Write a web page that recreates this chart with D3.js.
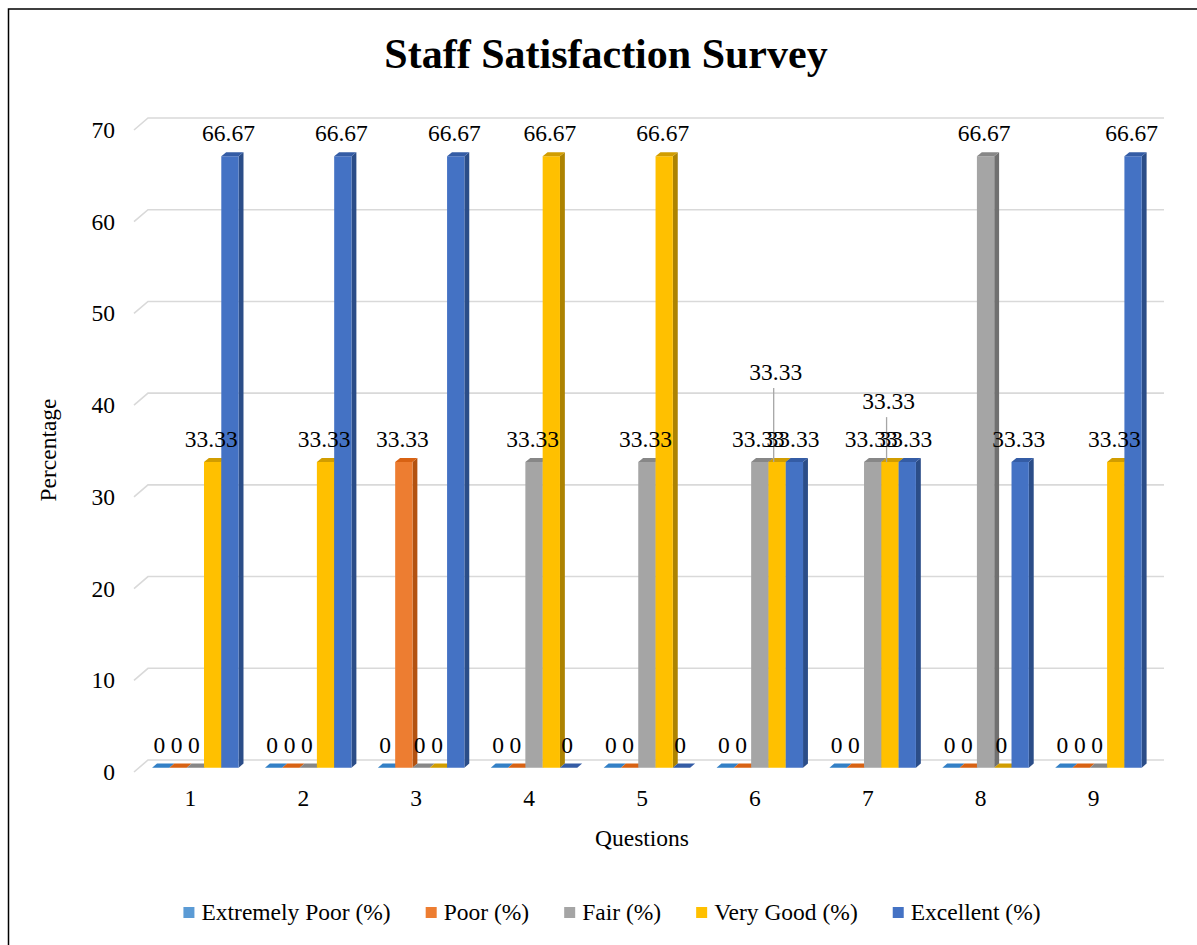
<!DOCTYPE html>
<html>
<head>
<meta charset="utf-8">
<script src="https://cdn.jsdelivr.net/npm/d3@7/dist/d3.min.js"></script>
<style>
  html, body { margin: 0; padding: 0; background: #fff; }
  svg { display: block; }
  svg text { font-family: "Liberation Serif", "Times New Roman", Tinos, serif !important; fill: #000; }
</style>
</head>
<body>
<svg id="chart" width="1197" height="945" font-family="Liberation Serif, serif"></svg>
<script>
// ---- data ----
const categories = ["1", "2", "3", "4", "5", "6", "7", "8", "9"];
const seriesNames = ["Extremely Poor (%)", "Poor (%)", "Fair (%)", "Very Good (%)", "Excellent (%)"];
const extremelyPoor = [0, 0, 0, 0, 0, 0, 0, 0, 0];
const poor          = [0, 0, 33.33, 0, 0, 0, 0, 0, 0];
const fair          = [0, 0, 0, 33.33, 33.33, 33.33, 33.33, 66.67, 0];
const veryGood      = [33.33, 33.33, 0, 66.67, 66.67, 33.33, 33.33, 0, 33.33];
const excellent     = [66.67, 66.67, 66.67, 0, 0, 33.33, 33.33, 33.33, 66.67];
const yTicks = [0, 10, 20, 30, 40, 50, 60, 70];
const titleText = "Staff Satisfaction Survey";
const xTitle = "Questions";
const yTitle = "Percentage";

// ---- style ----
const colors = ["#5B9BD5", "#ED7D31", "#A5A5A5", "#FFC000", "#4472C4"];
const seriesValues = [extremelyPoor, poor, fair, veryGood, excellent];
// manually moved labels (pixels up) with leader lines: [categoryIndex, seriesIndex, offset]
const movedLabels = [[5, 3, 67], [6, 3, 38]];

const svg = d3.select("#chart");
const FONT = 23.5;
const SERIF = "'Liberation Serif', 'Times New Roman', serif";

// border
svg.append("rect").attr("x", 8.5).attr("y", 9).attr("width", 1250).attr("height", 1000)
  .attr("fill", "none").attr("stroke", "#000").attr("stroke-width", 1.5);

// ---- scales (front plane) ----
const x0 = d3.scaleBand().domain(categories).range([134, 1150]).padding(0);
const bw = x0.bandwidth();
const groupW = 86.5;
const x1 = d3.scaleBand().domain(seriesNames).range([(bw - groupW) / 2, (bw + groupW) / 2]).padding(0);
const y = d3.scaleLinear().domain([0, 70]).range([772, 130]);
const DX = 14, DY = -12; // full depth offset
const d1 = 0.35, d2 = 0.70;
function proj(px, v, d) { return [px + d * DX, y(v) + d * DY]; }

// ---- gridlines on back wall with left floor diagonal ----
const [rx0, rx1] = x0.range();
svg.append("g").selectAll("path").data(yTicks).join("path")
  .attr("d", v => {
    const a = proj(rx0, v, 0), b = proj(rx0, v, 1), c = proj(rx1, v, 1);
    return `M${a}L${b}L${c}`;
  })
  .attr("fill", "none").attr("stroke", "#D9D9D9").attr("stroke-width", 1.6);

// ---- bars ----
function shade(c, k) { const h = d3.hsl(c); h.l = h.l * k; return h.formatHex(); }
const barsG = svg.append("g");
const labelData = [];
categories.forEach((cat, ci) => {
  seriesNames.forEach((s, si) => {
    const v = seriesValues[si][ci];
    const xl = x0(cat) + x1(s);
    const xr = xl + x1.bandwidth();
    const col = colors[si];
    const fbl = proj(xl, 0, d1), fbr = proj(xr, 0, d1);
    const ftl = proj(xl, v, d1), ftr = proj(xr, v, d1);
    const btl = proj(xl, v, d2), btr = proj(xr, v, d2);
    const bbr = proj(xr, 0, d2);
    if (v > 0) {
      barsG.append("path").attr("d", `M${fbr}L${bbr}L${btr}L${ftr}Z`).attr("fill", shade(col, 0.68));
      barsG.append("path").attr("d", `M${fbl}L${fbr}L${ftr}L${ftl}Z`).attr("fill", col);
    }
    barsG.append("path").attr("d", `M${ftl}L${ftr}L${btr}L${btl}Z`).attr("fill", shade(col, 0.82));
    labelData.push({ ci, si, v, cx: (xl + xr) / 2 + 3.5, top: ftl[1] });
  });
});

// ---- data labels ----
const labG = svg.append("g");
labelData.forEach(d => {
  const m = movedLabels.find(mm => mm[0] === d.ci && mm[1] === d.si);
  const off = m ? m[2] : 0;
  const ty = d.top - 15 - off;
  if (m) {
    labG.append("line").attr("x1", d.cx - 2).attr("x2", d.cx - 2).attr("y1", ty + 8).attr("y2", d.top)
      .attr("stroke", "#A6A6A6").attr("stroke-width", 1.3);
  }
  labG.append("text").attr("x", d.cx).attr("y", ty).attr("text-anchor", "middle")
    .style("font-family", SERIF).style("font-size", FONT + "px").text(String(+d.v.toFixed(2)));
});

// ---- axes ----
const yAxis = svg.append("g").attr("transform", "translate(115,0)")
  .call(d3.axisLeft(y).tickValues(yTicks).tickSize(0).tickPadding(0).tickFormat(d3.format("d")));
yAxis.attr("font-family", null);
yAxis.select(".domain").remove();
yAxis.selectAll("text").style("font-size", FONT + "px").style("font-family", SERIF).attr("fill", "#000");

const xAxis = svg.append("g").attr("transform", "translate(0,789)")
  .call(d3.axisBottom(x0).tickSize(0).tickPadding(0));
xAxis.attr("font-family", null);
xAxis.select(".domain").remove();
xAxis.selectAll("text").style("font-size", FONT + "px").style("font-family", SERIF).attr("fill", "#000");

// ---- titles ----
svg.append("text").attr("x", 606).attr("y", 68).attr("text-anchor", "middle")
  .style("font-family", SERIF).style("font-size", "42px").style("font-weight", "bold").text(titleText);
svg.append("text").attr("x", (rx0 + rx1) / 2).attr("y", 846).attr("text-anchor", "middle")
  .style("font-family", SERIF).style("font-size", FONT + "px").text(xTitle);
svg.append("text").attr("transform", "translate(56,450) rotate(-90)").attr("text-anchor", "middle")
  .style("font-family", SERIF).style("font-size", FONT + "px").text(yTitle);

// ---- legend ----
const legG = svg.append("g");
const items = legG.selectAll("g").data(seriesNames).join("g");
items.append("rect").attr("width", 11).attr("height", 11).attr("y", 907).attr("fill", (d, i) => colors[i]);
items.append("text").attr("x", 18).attr("y", 920).style("font-family", SERIF).style("font-size", FONT + "px").text(d => d);
let widths = [];
items.each(function () { widths.push(18 + d3.select(this).select("text").node().getComputedTextLength()); });
const gap = 35;
const total = d3.sum(widths) + gap * (widths.length - 1);
let cur = 612 - total / 2;
items.attr("transform", (d, i) => { const t = `translate(${cur},0)`; cur += widths[i] + gap; return t; });
</script>
</body>
</html>
